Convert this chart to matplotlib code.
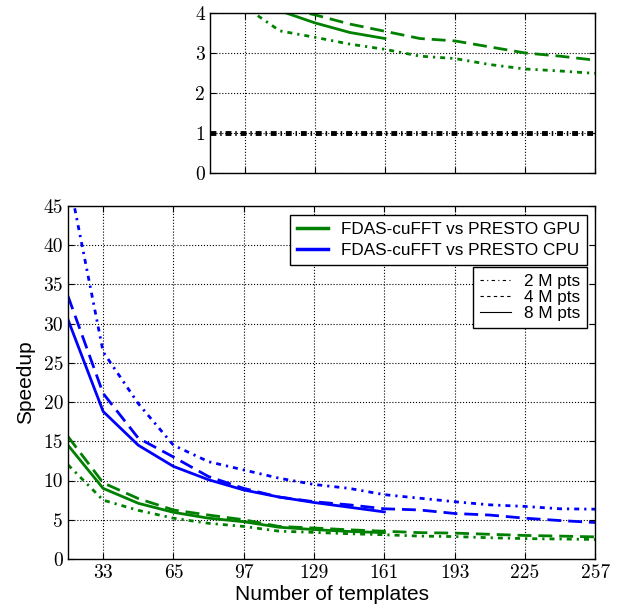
import matplotlib
matplotlib.use('Agg')
import matplotlib.pyplot as plt
from matplotlib.lines import Line2D

# Number of templates and speedups
templates = [17, 33, 49, 65, 81, 97, 113, 129, 145, 161, 177, 193, 209, 225, 241, 257]
templates_8m = templates[:10]

gpu_2m = [12.0, 7.5, 6.2, 5.2, 4.55, 4.15, 3.55, 3.39, 3.22, 3.09, 2.92, 2.86, 2.71, 2.6, 2.55, 2.49]
gpu_4m = [15.6, 9.7, 7.7, 6.25, 5.6, 5.0, 4.15, 3.95, 3.72, 3.54, 3.36, 3.30, 3.15, 3.0, 2.92, 2.82]
gpu_8m = [14.5, 9.0, 7.1, 5.95, 5.2, 4.75, 4.05, 3.75, 3.51, 3.36]

cpu_2m = [49.0, 26.4, 19.8, 14.5, 12.4, 11.35, 10.3, 9.5, 9.0, 8.2, 7.75, 7.3, 6.9, 6.7, 6.4, 6.35]
cpu_4m = [33.5, 21.1, 15.4, 13.0, 10.5, 9.0, 7.9, 7.3, 6.9, 6.4, 6.25, 5.8, 5.6, 5.2, 4.9, 4.65]
cpu_8m = [30.5, 18.8, 14.5, 11.8, 10.1, 8.8, 7.9, 7.2, 6.6, 6.0]

breakeven = 1.0
xticks = [33, 65, 97, 129, 161, 193, 225, 257]

green = '#008000'
blue = '#0000ff'
sans = 'Liberation Sans'
serif = 'cmr10'
dashdot = (0, (1.8, 1.8, 0.8, 1.8))
dashed = (0, (5, 2.5))


def style_axes(ax):
    ax.grid(True, color='black', linestyle=':', linewidth=0.8)
    ax.tick_params(direction='in', top=True, right=True, length=4, width=0.8,
                   labelsize=14)
    for lab in ax.get_xticklabels() + ax.get_yticklabels():
        lab.set_fontfamily(serif)
    for s in ax.spines.values():
        s.set_linewidth(1.0)


fig = plt.figure(figsize=(6.21, 6.12), dpi=100)

# Main axes
ax = fig.add_axes([0.1095, 0.0866, 0.849, 0.577])
ax.plot(templates, gpu_2m, color=green, lw=2, linestyle=dashdot)
ax.plot(templates, gpu_4m, color=green, lw=2, linestyle=dashed)
ax.plot(templates_8m, gpu_8m, color=green, lw=2)
ax.plot(templates, cpu_2m, color=blue, lw=2, linestyle=dashdot)
ax.plot(templates, cpu_4m, color=blue, lw=2, linestyle=dashed)
ax.plot(templates_8m, cpu_8m, color=blue, lw=2)
ax.set_xticks(xticks)
ax.set_yticks(range(0, 46, 5))
ax.set_xlim(17, 257)
ax.set_ylim(0, 45)
ax.set_axisbelow(True)
style_axes(ax)
ax.set_xlabel('Number of templates', fontfamily=sans, fontsize=15, labelpad=2)
ax.set_ylabel('Speedup', fontfamily=sans, fontsize=15, labelpad=6)

h1 = [Line2D([], [], color=green, lw=2.5), Line2D([], [], color=blue, lw=2.5)]
leg1 = ax.legend(h1, ['FDAS-cuFFT vs PRESTO GPU', 'FDAS-cuFFT vs PRESTO CPU'],
                 loc='upper right', bbox_to_anchor=(0.985, 0.975),
                 prop={'family': sans, 'size': 12.3}, fancybox=False,
                 edgecolor='black', framealpha=1, handlelength=1.8,
                 borderaxespad=0, labelspacing=0.4)
leg1.get_frame().set_linewidth(1.0)
ax.add_artist(leg1)

h2 = [Line2D([], [], color='black', lw=0.8, linestyle=(0, (3, 3, 1, 3))),
      Line2D([], [], color='black', lw=0.8, linestyle=(0, (3, 3))),
      Line2D([], [], color='black', lw=0.8)]
leg2 = ax.legend(h2, ['2 M pts', '4 M pts', '8 M pts'],
                 loc='upper right', bbox_to_anchor=(0.985, 0.826),
                 prop={'family': sans, 'size': 12.3}, fancybox=False,
                 edgecolor='black', framealpha=1, handlelength=1.8,
                 borderaxespad=0, labelspacing=0.05)
leg2.get_frame().set_linewidth(1.0)

# Inset zoom
ins = fig.add_axes([0.338, 0.717, 0.62, 0.262])
ins.plot(templates, gpu_2m, color=green, lw=2, linestyle=dashdot)
ins.plot(templates, gpu_4m, color=green, lw=2, linestyle=dashed)
ins.plot(templates_8m, gpu_8m, color=green, lw=2)
ins.axhline(breakeven, color='black', lw=3.5, linestyle=(0, (1.2, 0.8, 0.3, 0.8)))
ins.set_xticks(xticks)
ins.set_yticks(range(0, 5))
ins.set_xlim(81, 257)
ins.set_ylim(0, 4)
ins.set_xticklabels([])
ins.set_axisbelow(True)
style_axes(ins)

fig.savefig('out.png', dpi=100)
